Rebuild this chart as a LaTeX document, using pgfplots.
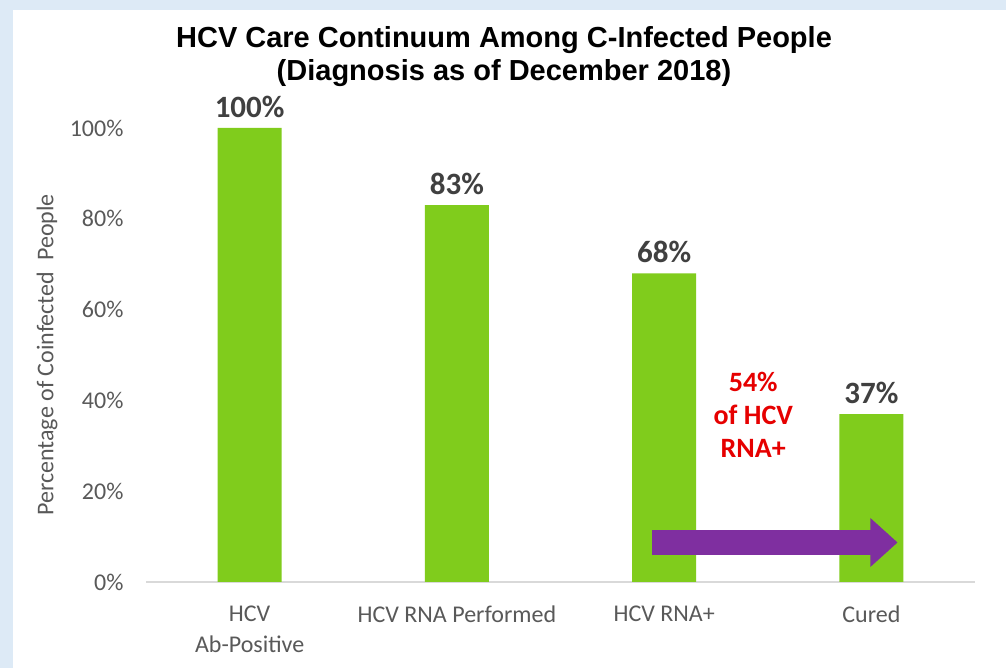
\documentclass[border=0pt]{standalone}
\usepackage{fontspec}
\setmainfont{Carlito}
\newfontfamily\arialf{Liberation Sans}
\usepackage{pgfplots}
\pgfplotsset{compat=1.18}
\definecolor{barg}{HTML}{80CC1C}
\definecolor{purp}{HTML}{7F2FA0}
\definecolor{redt}{HTML}{E60000}
\definecolor{lab}{HTML}{404040}
\definecolor{tickc}{HTML}{595959}
\definecolor{axl}{HTML}{D9D9D9}
\definecolor{frame}{HTML}{DDEAF6}
\begin{document}
\begin{tikzpicture}[x=1pt,y=1pt]
\path[use as bounding box, fill=frame] (0,0) rectangle (1006,668);
\fill[white] (13,0) rectangle (1006,658);
\node[align=center, font=\arialf\bfseries\fontsize{29}{33}\selectfont] at (504,611) {HCV Care Continuum Among C-Infected People\\(Diagnosis as of December 2018)};
\begin{axis}[
  at={(146pt,86pt)}, anchor=south west,
  scale only axis, width=829pt, height=454pt,
  xmin=-0.5, xmax=3.5, ymin=0, ymax=100,
  clip=false,
  /pgf/number format/assume math mode=true,
  axis x line*=bottom, axis y line*=left,
  x axis line style={draw=axl, line width=1.2pt, -},
  y axis line style={draw=none},
  xtick={0,1,2,3}, xtick style={draw=none}, ytick style={draw=none},
  xticklabels={{HCV\\Ab-Positive},{HCV RNA Performed},{HCV RNA+},{Cured}},
  xticklabel style={align=center, font=\fontsize{24}{31}\selectfont, text=tickc, yshift=-20pt},
  ytick={0,20,40,60,80,100},
  yticklabels={0\%,20\%,40\%,60\%,80\%,100\%},
  yticklabel style={font=\fontsize{24}{28}\selectfont, text=tickc, xshift=-19pt},
  ylabel={Percentage of Coinfected\ \ People},
  ylabel style={at={(axis description cs:-0.1194,0.5)}, anchor=center, font=\fontsize{24}{28}\selectfont, text=tickc},
  nodes near coords={\pgfmathprintnumber[assume math mode=true]{\pgfplotspointmeta}\%},
  nodes near coords style={font=\bfseries\fontsize{31}{36}\selectfont, text=lab, inner sep=3pt, yshift=7pt},
]
\addplot[ybar, bar width=64pt, fill=barg, draw=none] coordinates {(0,100) (1,83) (2,68) (3,37)};
\fill[purp] (axis cs:1.942,5.95) -- (axis cs:2.995,5.95) -- (axis cs:2.995,3.3) -- (axis cs:3.126,8.7) -- (axis cs:2.995,14.1) -- (axis cs:2.995,11.45) -- (axis cs:1.942,11.45) -- cycle;
\node[align=center, text=redt, font=\bfseries\fontsize{28}{33}\selectfont] at (axis cs:2.43,36.8) {54\%\\of HCV\\RNA+};
\end{axis}
\end{tikzpicture}
\end{document}
